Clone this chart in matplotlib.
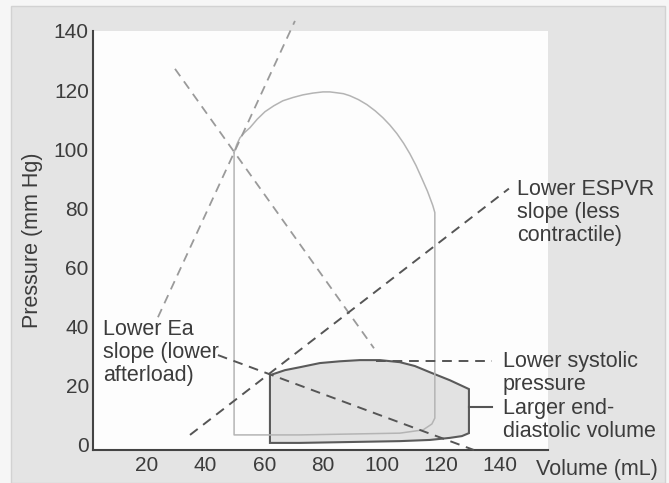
import matplotlib.pyplot as plt
from matplotlib.patches import Rectangle

plt.rcParams['font.family'] = ['Liberation Sans', 'DejaVu Sans']

# baseline pressure-volume loop (light outline)
base_x = [49.7, 49.7, 72.1, 89.1, 106.1, 114.0, 117.0, 118.0,
          118.0, 117.3, 115.5, 113.6, 111.6, 109.5, 107.4, 105.1, 102.7, 100.3,
          97.7, 94.9, 92.0, 89.1, 86.9, 84.7, 82.3, 79.9, 76.5, 73.1,
          69.7, 66.3, 63.2, 60.2, 57.6, 55.1, 53.3, 51.7, 50.6, 49.7]
base_y = [98.9, 3.4, 3.4, 3.7, 4.0, 5.1, 7.1, 9.1,
          78.6, 81.0, 85.8, 90.1, 94.5, 98.5, 102.0, 105.3, 108.2, 110.7,
          113.0, 115.1, 116.8, 118.1, 118.8, 119.1, 119.4, 119.4, 119.0, 118.4,
          117.5, 116.4, 114.7, 112.7, 110.2, 107.3, 105.7, 103.9, 101.6, 98.9]

# loop with lower contractility / afterload (shaded)
new_x = [61.9, 67.0, 72.1, 78.9, 85.7, 92.5, 99.3, 106.1, 111.2, 116.3,
         123.1, 129.6, 129.6, 127.2, 123.1, 116.3, 106.1, 89.1, 72.1, 61.9, 61.9]
new_y = [23.6, 25.3, 26.3, 27.7, 28.3, 28.7, 28.7, 28.0, 26.7, 24.6,
         21.9, 18.9, 4.0, 3.0, 2.4, 1.7, 1.3, 1.0, 0.7, 0.7, 23.6]

# end-systolic / arterial elastance lines (two end points each)
espvr_base = ([23.8, 70.4], [43.2, 143.4])
ea_base = ([29.6, 97.3], [127.2, 32.7])
espvr_low = ([34.7, 143.2], [3.4, 86.7])
ea_low = ([44.2, 131.3], [30.4, -1.7])
leader_dash = ([98.0, 137.4], [28.3, 28.3])
leader_solid = ([129.6, 137.4], [12.8, 12.8])

yticks = [0, 20, 40, 60, 80, 100, 120, 140]
xticks = [20, 40, 60, 80, 100, 120, 140]

txt = '#3c3c3c'
fs = 15.5

fig = plt.figure(figsize=(6.69, 4.83), dpi=100)
fig.patch.set_facecolor('#f6f6f6')
panel = Rectangle((11 / 669, 0), 654 / 669, 477 / 483,
                  transform=fig.transFigure, facecolor='#e4e4e4',
                  edgecolor='#d2d2d2', linewidth=1, zorder=-10)
fig.patches.append(panel)

ax = fig.add_axes([93 / 669, 33 / 483, 455 / 669, 419 / 483])
ax.set_zorder(1)
ax.set_facecolor('#fdfdfd')
ax.set_xlim(1.7, 156.5)
ax.set_ylim(-1.7, 139.7)
for s in ['top', 'right']:
    ax.spines[s].set_visible(False)
for s in ['left', 'bottom']:
    ax.spines[s].set_color('#444444')
    ax.spines[s].set_linewidth(1.5)
ax.set_xticks(xticks)
ax.set_yticks(yticks)
ax.tick_params(length=0, labelsize=15, labelcolor=txt)
ax.tick_params(axis='y', pad=3)
ax.tick_params(axis='x', pad=4)

ax.fill(new_x, new_y, facecolor='#e2e2e2', edgecolor='#5a5a5a', linewidth=1.5, zorder=2)
ax.plot(base_x, base_y, color='#b4b4b4', linewidth=1.1, zorder=3)

ax.plot(*espvr_base, color='#9a9a9a', linewidth=1.3, dashes=(5, 3.5), zorder=4, clip_on=False)
ax.plot(*ea_base, color='#9a9a9a', linewidth=1.3, dashes=(5, 3.5), zorder=4)
ax.plot(*espvr_low, color='#555555', linewidth=1.4, dashes=(5, 3.5), zorder=4)
ax.plot(*ea_low, color='#555555', linewidth=1.4, dashes=(5, 3.5), zorder=4, clip_on=False)
ax.plot(*leader_dash, color='#555555', linewidth=1.4, dashes=(5, 3.5), zorder=4, clip_on=False)
ax.plot(*leader_solid, color='#555555', linewidth=1.5, zorder=4, clip_on=False)

kw = dict(fontsize=fs, color=txt, va='center', ha='left', linespacing=1.12, clip_on=False)
ax.text(5.1, 31.4, 'Lower Ea\nslope (lower\nafterload)', **kw)
ax.text(145.9, 78.6, 'Lower ESPVR\nslope (less\ncontractile)', **kw)
ax.text(141.2, 24.3, 'Lower systolic\npressure', **kw)
ax.text(141.2, 8.6, 'Larger end-\ndiastolic volume', **kw)
ax.text(152.4, -8.4, 'Volume (mL)', **kw)
ax.text(-18.8, 69.2, 'Pressure (mm Hg)', fontsize=fs, color=txt,
        va='center', ha='center', rotation=90, clip_on=False)

fig.savefig('out.png', dpi=100, facecolor=fig.get_facecolor())
